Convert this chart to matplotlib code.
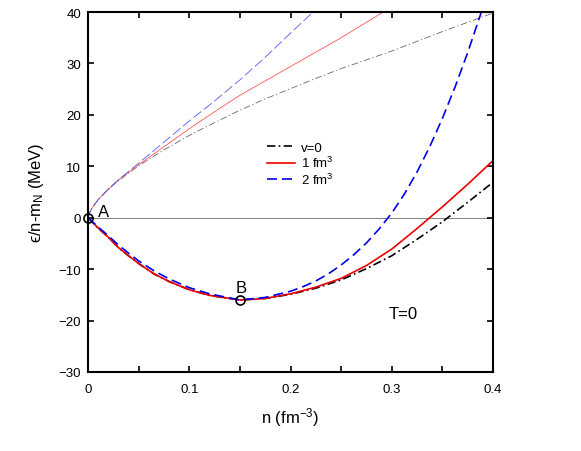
import numpy as np
import matplotlib
matplotlib.use('Agg')
import matplotlib.pyplot as plt
from matplotlib.ticker import MultipleLocator

plt.rcParams['font.family'] = ['Liberation Sans', 'DejaVu Sans']
plt.rcParams['mathtext.fontset'] = 'custom'
plt.rcParams['mathtext.rm'] = 'Liberation Sans'
plt.rcParams['mathtext.it'] = 'Liberation Sans:italic'
plt.rcParams['mathtext.fallback'] = 'stixsans'

# density grid for the bound (lower) curves, fm^-3
n_low = [0, 0.005, 0.01, 0.02, 0.03, 0.04, 0.05, 0.065, 0.08, 0.1, 0.12, 0.15,
         0.175, 0.2, 0.225, 0.25, 0.275, 0.3, 0.325, 0.35, 0.375, 0.4]
e_v0 = [0, -1.0, -2.0, -3.8, -5.8, -7.4, -8.9, -10.9, -12.4, -14.0, -15.1, -16.0,
        -15.7, -14.9, -13.7, -12.1, -9.9, -7.4, -4.2, -0.8, 3.0, 6.9]
e_v1 = [0, -1.0, -2.0, -3.8, -5.8, -7.4, -8.9, -10.9, -12.4, -14.0, -15.1, -16.0,
        -15.7, -14.8, -13.5, -11.8, -9.3, -6.1, -2.1, 2.1, 6.5, 11.1]

# the v=2 fm^3 curve rises steeply, so it gets a finer grid
n_v2 = [0, 0.005, 0.01, 0.02, 0.03, 0.04, 0.05, 0.065, 0.08, 0.1, 0.12, 0.15,
        0.175, 0.2, 0.2125, 0.225, 0.2375, 0.25, 0.2625, 0.275, 0.2875, 0.3,
        0.3125, 0.325, 0.3375, 0.35, 0.3625, 0.375, 0.3875, 0.4]
e_v2 = [0, -0.9, -1.8, -3.5, -5.3, -6.9, -8.4, -10.3, -11.9, -13.6, -14.8, -16.0,
        -15.5, -14.3, -13.4, -12.3, -10.9, -9.2, -7.2, -4.9, -2.2, 0.9,
        4.6, 8.9, 13.8, 19.3, 25.4, 32.1, 39.4, 47.3]

# unbound (upper, thin) curves
n_up = [0, 0.002, 0.005, 0.01, 0.02, 0.03, 0.05, 0.075, 0.1, 0.125, 0.15,
        0.175, 0.2, 0.225, 0.25, 0.3, 0.35, 0.4]
u_v0 = [0, 1.2, 2.2, 3.5, 5.5, 7.2, 10.1, 13.2, 16.0, 18.5, 20.9,
        23.1, 25.1, 27.1, 29.0, 32.4, 36.2, 39.8]
n_up1 = [0, 0.002, 0.005, 0.01, 0.02, 0.03, 0.05, 0.075, 0.1, 0.125, 0.15,
         0.175, 0.2, 0.225, 0.25, 0.3]
u_v1 = [0, 1.2, 2.2, 3.5, 5.5, 7.3, 10.3, 13.8, 17.3, 20.6, 23.8,
        26.6, 29.4, 32.2, 35.0, 41.0]
n_up2 = [0, 0.002, 0.005, 0.01, 0.02, 0.03, 0.05, 0.075, 0.1, 0.125, 0.15,
         0.175, 0.2, 0.225]
u_v2 = [0, 1.2, 2.2, 3.5, 5.6, 7.4, 10.6, 14.7, 18.8, 22.7, 26.8,
        31.2, 35.9, 40.5]

# special points A (vacuum) and B (saturation)
pt_n = [0, 0.15]
pt_e = [0, -16]
pt_lab = ['A', 'B']

labels = ['v=0', '1 fm$^{\\mathregular{3}}$', '2 fm$^{\\mathregular{3}}$']

fig = plt.figure(figsize=(5.81, 4.52), dpi=100)
ax = fig.add_axes([0.1515, 0.1748, 0.6970, 0.7964])

ax.axhline(0, color='#808080', lw=0.7, zorder=1)

ax.plot(n_up, u_v0, color='#666666', lw=0.6, dashes=(8, 3, 1.5, 3))
ax.plot(n_up1, u_v1, color='#ff5555', lw=0.6)
ax.plot(n_up2, u_v2, color='#5555ff', lw=0.6, dashes=(12, 4))

ax.plot(n_low, e_v0, color='black', lw=1.2, dashes=(5, 2, 1, 2), label=labels[0])
ax.plot(n_low, e_v1, color='#ee0000', lw=1.2, label=labels[1])
ax.plot(n_v2, e_v2, color='#0000ee', lw=1.2, dashes=(6, 3), label=labels[2])

ax.plot(pt_n, pt_e, 'o', ms=6.5, mfc='none', mec='black', mew=1.2,
        clip_on=False, zorder=5)
ax.annotate(pt_lab[0], (pt_n[0], pt_e[0]), xytext=(7, 1), textcoords='offset points',
            fontsize=12)
ax.annotate(pt_lab[1], (pt_n[1], pt_e[1]), xytext=(-3, 6), textcoords='offset points',
            fontsize=12)
ax.text(0.311, -18.7, 'T=0', fontsize=12, ha='center', va='center')

ax.set_xlim(0, 0.4)
ax.set_ylim(-30, 40)
ax.xaxis.set_ticks([0, 0.1, 0.2, 0.3, 0.4])
ax.set_xticklabels(['0', '0.1', '0.2', '0.3', '0.4'])
ax.xaxis.set_minor_locator(MultipleLocator(0.05))
ax.yaxis.set_major_locator(MultipleLocator(10))
ax.tick_params(which='both', direction='in', top=True, right=True,
               length=4.5, width=1.2, labelsize=9.5)
ax.tick_params(axis='x', pad=8)
ax.tick_params(axis='y', pad=5)
for s in ax.spines.values():
    s.set_linewidth(1.5)

ax.set_xlabel('n (fm$^{\\mathregular{-3}}$)', fontsize=12, labelpad=7)
ax.set_ylabel('$\\mathregular{ϵ}$/n-m$_{\\mathregular{N}}$ (MeV)',
              fontsize=12, labelpad=9)

ax.legend(loc='upper left', bbox_to_anchor=(0.442, 0.64), frameon=False,
          fontsize=9.5, handlelength=2.1, handletextpad=0.45, labelspacing=0.1,
          borderpad=0, borderaxespad=0)

fig.savefig('out.png', dpi=100)
